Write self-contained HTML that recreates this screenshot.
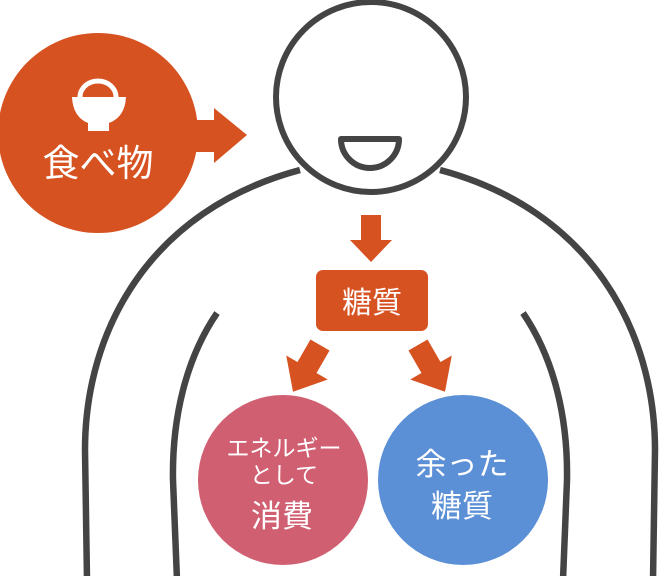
<!DOCTYPE html>
<html><head><meta charset="utf-8"><style>
html,body{margin:0;padding:0;background:#fff;overflow:hidden}
svg{display:block}
text{font-family:"Liberation Sans","Noto Sans CJK JP",sans-serif;fill:#fff}
</style></head><body>
<svg width="664" height="576" viewBox="0 0 664 576">
<path d="M300 170 C150 210 85 330 85 450 L87 580" fill="none" stroke="#444" stroke-width="6.5"/>
<path d="M440 170 C590 210 655 330 655 450 L653 580" fill="none" stroke="#444" stroke-width="6.5"/>
<circle cx="371" cy="97" r="95" fill="#fff" stroke="#444" stroke-width="6"/>
<path d="M341 139 H399 A29 29 0 0 1 341 139 Z" fill="#fff" stroke="#444" stroke-width="6" stroke-linejoin="round"/>
<path d="M217 313 C185 360 172 420 173 480 L177 580" fill="none" stroke="#444" stroke-width="6.5"/>
<path d="M523 313 C555 360 568 420 567 480 L563 580" fill="none" stroke="#444" stroke-width="6.5"/>
<circle cx="98" cy="133" r="100" fill="#d75221"/>
<path d="M190 120 H214 V108 L247 135 L214 163 V152 H190 Z" fill="#d75221"/>
<path d="M80 97 A18 16 0 0 1 116 97" fill="none" stroke="#fff" stroke-width="5"/>
<path d="M72 97 H126 Q125 117 109 123 V131 H88 V123 Q73 117 72 97 Z" fill="#fff"/>
<text x="98" y="176" font-size="37" text-anchor="middle">食べ物</text>
<path d="M361 215 H381 V240 H392 L371 262 L350 240 H361 Z" fill="#d75221"/>
<rect x="316" y="270" width="112" height="61" rx="7" fill="#d75221"/>
<text x="372" y="313" font-size="30" text-anchor="middle">糖質</text>
<g transform="translate(320,345) rotate(30)"><path d="M-11 0 H11 V26 H24 L0 54 L-24 26 H-11 Z" fill="#d75221"/></g>
<g transform="translate(418,345) rotate(-30)"><path d="M-11 0 H11 V26 H24 L0 54 L-24 26 H-11 Z" fill="#d75221"/></g>
<circle cx="283" cy="480" r="85" fill="#d05f72"/>
<circle cx="463" cy="480" r="85" fill="#5b8fd6"/>
<text x="284" y="456" font-size="23" text-anchor="middle">エネルギー</text>
<text x="284" y="483" font-size="23" text-anchor="middle">として</text>
<text x="282" y="527" font-size="31" text-anchor="middle">消費</text>
<text x="462" y="475" font-size="31" text-anchor="middle">余った</text>
<text x="462" y="517" font-size="31" text-anchor="middle">糖質</text>
</svg>
</body></html>
